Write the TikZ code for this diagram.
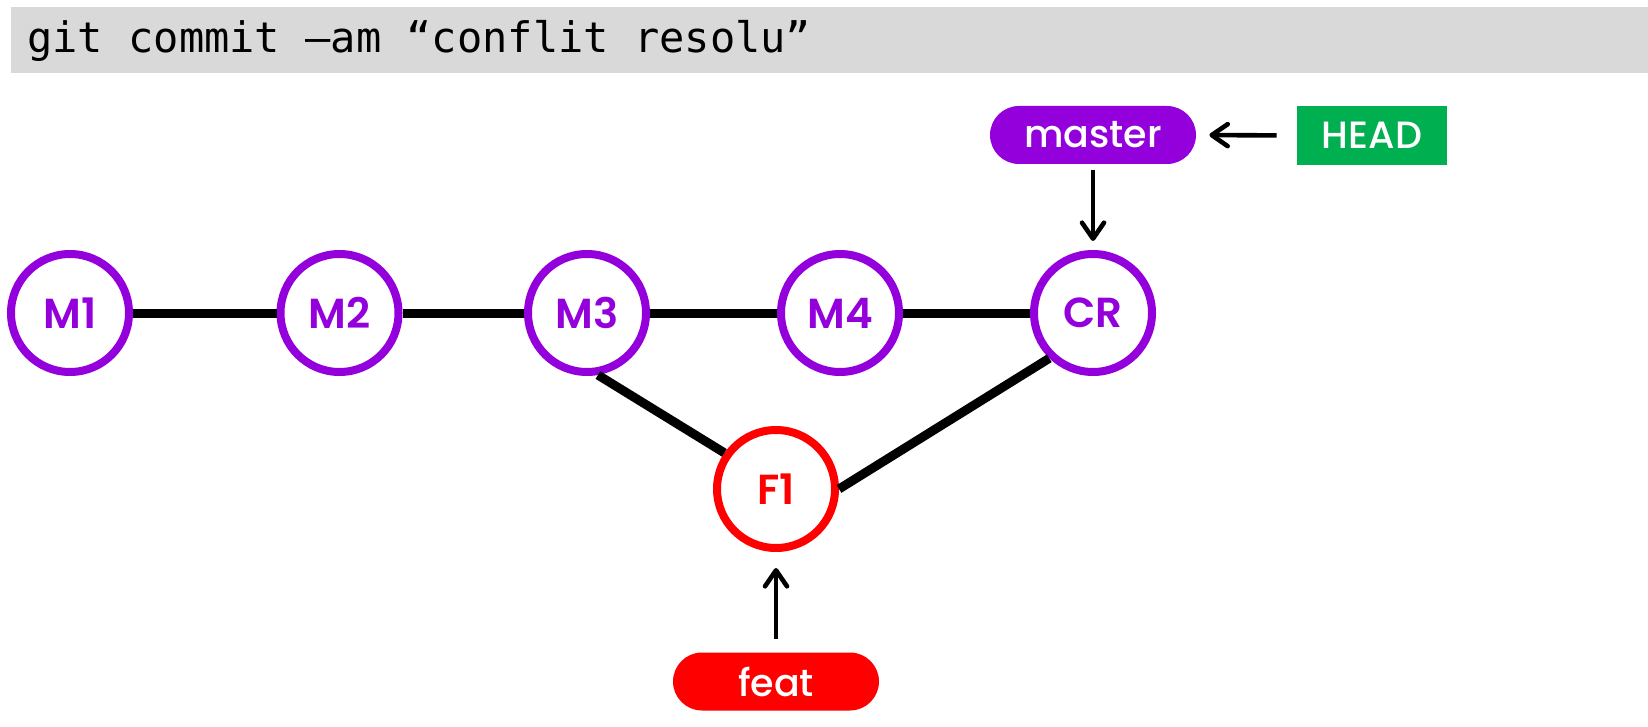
\documentclass[tikz,border=0pt]{standalone}
\usepackage{fontspec}
\setmainfont{Poppins}[UprightFont=* Medium, BoldFont=* SemiBold]
\newfontfamily\codefont{DejaVu Sans Mono}
\usetikzlibrary{arrows.meta}
\definecolor{commitpurple}{RGB}{148,0,220}
\definecolor{featred}{RGB}{255,0,0}
\definecolor{headgreen}{RGB}{0,176,80}
\definecolor{cmdgray}{RGB}{217,217,217}

\begin{document}
\begin{tikzpicture}[x=0.5pt, y=-0.5pt,
  commit/.style={circle, draw=#1, line width=4pt, fill=white, text=#1, minimum size=59pt, inner sep=0pt, font=\bfseries\fontsize{21}{21}\selectfont},
  branch/.style={rectangle, rounded corners=14.5pt, fill=#1, text=white, minimum width=103pt, minimum height=29pt, inner sep=0pt, font=\fontsize{19}{19}\selectfont},
  link/.style={line width=4.5pt},
  ptr/.style={line width=2.3pt, -{Straight Barb[length=8pt,width=11pt,round]}}]
\useasboundingbox (0,0) rectangle (1648,727);
\fill[cmdgray] (11,7) rectangle (1648,73);
\node[anchor=base west, inner sep=0pt, font=\codefont\fontsize{21}{21}\selectfont] (cmd) at (27,53) {git commit –am “conflit resolu”};

\node[commit=commitpurple] (M1) at (70,313) {M1};
\node[commit=commitpurple] (M2) at (339.5,313) {M2};
\node[commit=commitpurple] (M3) at (587,313) {M3};
\node[commit=commitpurple] (M4) at (840,313) {M4};
\node[commit=commitpurple] (CR) at (1093,313) {CR};
\node[commit=featred] (F1) at (776,489) {F1};

\draw[link] (M1) -- (M2);
\draw[link] (M2) -- (M3);
\draw[link] (M3) -- (M4);
\draw[link] (M4) -- (CR);
\draw[link] (M3.-80) -- (F1.145);
\draw[link] (F1.east) -- (CR.226);

\node[branch=commitpurple] (master) at (1093,135) {master};
\node[rectangle, fill=headgreen, text=white, minimum width=75pt, minimum height=29.5pt, inner sep=0pt, font=\fontsize{19}{19}\selectfont] (HEAD) at (1372,135.5) {HEAD};
\node[branch=featred] (feat) at (776,681.5) {feat};

\draw[ptr, shorten <=10pt, shorten >=6.5pt] (HEAD.west) -- (master.east);
\draw[ptr, shorten <=3pt, shorten >=4.5pt] (master.south) -- (CR.north);
\draw[ptr, shorten <=6.5pt, shorten >=8pt] (feat.north) -- (F1.south);
\end{tikzpicture}
\end{document}
